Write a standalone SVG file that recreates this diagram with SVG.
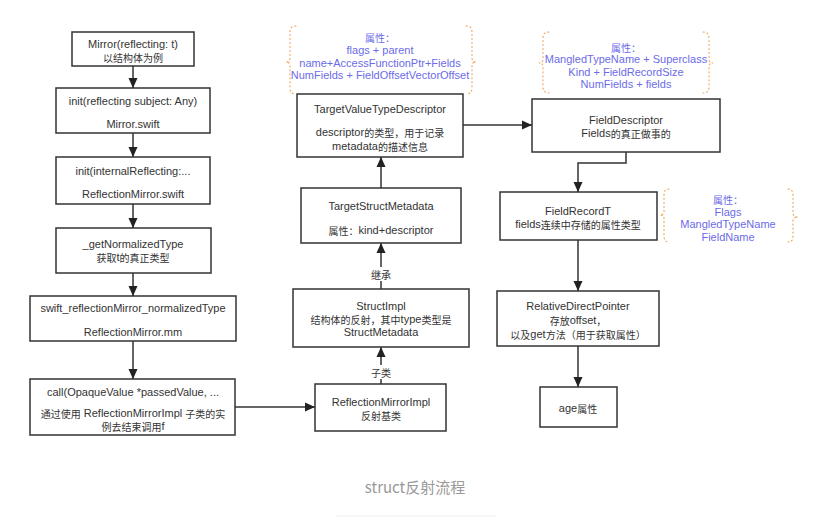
<svg xmlns="http://www.w3.org/2000/svg" width="825" height="530" viewBox="0 0 825 530">
<defs>
<marker id="arr" markerUnits="userSpaceOnUse" markerWidth="10" markerHeight="10" viewBox="0 0 10 10" refX="10" refY="5" orient="auto">
<path d="M0,0.5 L10,5 L0,9.5 Z" fill="#222"/>
</marker>
<style>
.box{fill:#fff;stroke:#333;stroke-width:1.5}
.t{font-family:"Liberation Sans","Noto Sans CJK SC",sans-serif;font-size:11px;fill:#333;text-anchor:middle;dominant-baseline:central}
.a{font-family:"Liberation Sans","Noto Sans CJK SC",sans-serif;font-size:11px;fill:#6b6be8;text-anchor:middle;dominant-baseline:central}
.c{font-family:"Noto Sans CJK SC",sans-serif;font-size:10px}
.ln{fill:none;stroke:#333;stroke-width:1.5}
.br{fill:none;stroke:#f0a860;stroke-width:1.2;stroke-dasharray:1 3;stroke-linecap:round}
.lb{fill:#fff}
</style>
</defs>
<rect width="825" height="530" fill="#fff"/>

<g id="connectors">
<path class="ln" d="M133,66 V88" marker-end="url(#arr)"/>
<path class="ln" d="M133,133 V157" marker-end="url(#arr)"/>
<path class="ln" d="M133,204 V228" marker-end="url(#arr)"/>
<path class="ln" d="M133,273 V296" marker-end="url(#arr)"/>
<path class="ln" d="M133,341 V379" marker-end="url(#arr)"/>
<path class="ln" d="M235,407 H315" marker-end="url(#arr)"/>
<path class="ln" d="M381,384 V347" marker-end="url(#arr)"/>
<path class="ln" d="M381,289 V243" marker-end="url(#arr)"/>
<path class="ln" d="M381,188 V157" marker-end="url(#arr)"/>
<path class="ln" d="M463,125 H532" marker-end="url(#arr)"/>
<path class="ln" d="M626,152 V163 H578 V192" marker-end="url(#arr)"/>
<path class="ln" d="M578,240 V291" marker-end="url(#arr)"/>
<path class="ln" d="M578,346 V387" marker-end="url(#arr)"/>
<rect class="lb" x="369" y="365" width="24" height="14"/>
<text class="t" x="381" y="372"><tspan class="c">子类</tspan></text>
<rect class="lb" x="369" y="267" width="24" height="14"/>
<text class="t" x="381" y="274"><tspan class="c">继承</tspan></text>
</g>

<g id="mirror">
<rect class="box" x="72" y="32" width="122" height="34"/>
<text class="t" x="133" y="44">Mirror(reflecting: t)</text>
<text class="t" x="133" y="57"><tspan class="c">以结构体为例</tspan></text>
</g>
<g id="init1">
<rect class="box" x="56" y="88" width="154" height="45"/>
<text class="t" x="133" y="101">init(reflecting subject: Any)</text>
<text class="t" x="133" y="124">Mirror.swift</text>
</g>
<g id="init2">
<rect class="box" x="56" y="157" width="154" height="47"/>
<text class="t" x="133" y="171">init(internalReflecting:...</text>
<text class="t" x="133" y="194">ReflectionMirror.swift</text>
</g>
<g id="getNormalizedType">
<rect class="box" x="56" y="228" width="155" height="45"/>
<text class="t" x="133" y="243.5">_getNormalizedType</text>
<text class="t" x="133" y="256.5"><tspan class="c">获取</tspan>t<tspan class="c">的真正类型</tspan></text>
</g>
<g id="normalizedType">
<rect class="box" x="30" y="296" width="206" height="45"/>
<text class="t" x="133" y="308">swift_reflectionMirror_normalizedType</text>
<text class="t" x="133" y="332">ReflectionMirror.mm</text>
</g>
<g id="call">
<rect class="box" x="30" y="379" width="205" height="56"/>
<text class="t" x="133" y="392">call(OpaqueValue *passedValue, ...</text>
<text class="t" x="133" y="413"><tspan class="c">通过使用</tspan> ReflectionMirrorImpl <tspan class="c">子类的实</tspan></text>
<text class="t" x="133" y="426"><tspan class="c">例去结束调用</tspan>f</text>
</g>

<g id="reflectionMirrorImpl">
<rect class="box" x="315" y="384" width="131" height="47"/>
<text class="t" x="381" y="402">ReflectionMirrorImpl</text>
<text class="t" x="381" y="415"><tspan class="c">反射基类</tspan></text>
</g>
<g id="structImpl">
<rect class="box" x="293" y="289" width="176" height="58"/>
<text class="t" x="381" y="306">StructImpl</text>
<text class="t" x="381" y="319"><tspan class="c">结构体的反射，其中</tspan>type<tspan class="c">类型是</tspan></text>
<text class="t" x="381" y="332">StructMetadata</text>
</g>
<g id="targetStructMetadata">
<rect class="box" x="301" y="188" width="160" height="55"/>
<text class="t" x="381" y="206">TargetStructMetadata</text>
<text class="t" x="381" y="230"><tspan class="c">属性：</tspan>kind+descriptor</text>
</g>
<g id="targetValueTypeDescriptor">
<rect class="box" x="297" y="94" width="166" height="63"/>
<text class="t" x="380" y="109">TargetValueTypeDescriptor</text>
<text class="t" x="380" y="132">descriptor<tspan class="c">的类型，用于记录</tspan></text>
<text class="t" x="380" y="146">metadata<tspan class="c">的描述信息</tspan></text>
</g>
<g id="tvtdAttrs">
<path class="br" d="M296,26 Q290,26 290,32 V58 Q290,62 286,62 Q290,62 290,66 V88 Q290,94 296,94"/>
<path class="br" d="M466,26 Q472,26 472,32 V58 Q472,62 476,62 Q472,62 472,66 V88 Q472,94 466,94"/>
<text class="a" x="380" y="37"><tspan class="c">属性：</tspan></text>
<text class="a" x="380" y="50">flags + parent</text>
<text class="a" x="380" y="62.5">name+AccessFunctionPtr+Fields</text>
<text class="a" x="380" y="75">NumFields + FieldOffsetVectorOffset</text>
</g>

<g id="fieldDescriptor">
<rect class="box" x="532" y="99" width="188" height="53"/>
<text class="t" x="626" y="120">FieldDescriptor</text>
<text class="t" x="626" y="133"><tspan>Fields</tspan><tspan class="c">的真正做事的</tspan></text>
</g>
<g id="fdAttrs">
<path class="br" d="M549,32 Q543,32 543,38 V59 Q543,63 539,63 Q543,63 543,67 V87 Q543,93 549,93"/>
<path class="br" d="M703,32 Q709,32 709,38 V59 Q709,63 713,63 Q709,63 709,67 V87 Q709,93 703,93"/>
<text class="a" x="626" y="46.5"><tspan class="c">属性：</tspan></text>
<text class="a" x="626" y="59">MangledTypeName + Superclass</text>
<text class="a" x="626" y="71.5">Kind + FieldRecordSize</text>
<text class="a" x="626" y="84">NumFields + fields</text>
</g>
<g id="fieldRecordT">
<rect class="box" x="500" y="192" width="157" height="48"/>
<text class="t" x="578" y="211">FieldRecordT</text>
<text class="t" x="578" y="224">fields<tspan class="c">连续中存储的属性类型</tspan></text>
</g>
<g id="frtAttrs">
<path class="br" d="M669,189 Q664,189 664,195 V211 Q664,215 660,215 Q664,215 664,219 V236 Q664,242 669,242"/>
<path class="br" d="M788,189 Q793,189 793,195 V213 Q793,217 798,217 Q793,217 793,221 V236 Q793,242 788,242"/>
<text class="a" x="728" y="199"><tspan class="c">属性：</tspan></text>
<text class="a" x="728" y="211.5">Flags</text>
<text class="a" x="728" y="224">MangledTypeName</text>
<text class="a" x="728" y="236.5">FieldName</text>
</g>
<g id="relativeDirectPointer">
<rect class="box" x="497" y="291" width="162" height="55"/>
<text class="t" x="578" y="306">RelativeDirectPointer</text>
<text class="t" x="578" y="319.5"><tspan class="c">存放</tspan>offset<tspan class="c">，</tspan></text>
<text class="t" x="578" y="333.5"><tspan class="c">以及</tspan>get<tspan class="c">方法（用于获取属性）</tspan></text>
</g>
<g id="age">
<rect class="box" x="540" y="387" width="77" height="40"/>
<text class="t" x="578" y="408">age<tspan class="c">属性</tspan></text>
</g>

<g id="caption">
<text x="415" y="486" font-family="'Noto Sans CJK SC','Noto Sans',sans-serif" font-size="15" fill="#999" text-anchor="middle" dominant-baseline="central">struct反射流程</text>
<line x1="336" y1="516" x2="496" y2="516" stroke="#eee" stroke-width="1"/>
</g>
</svg>
